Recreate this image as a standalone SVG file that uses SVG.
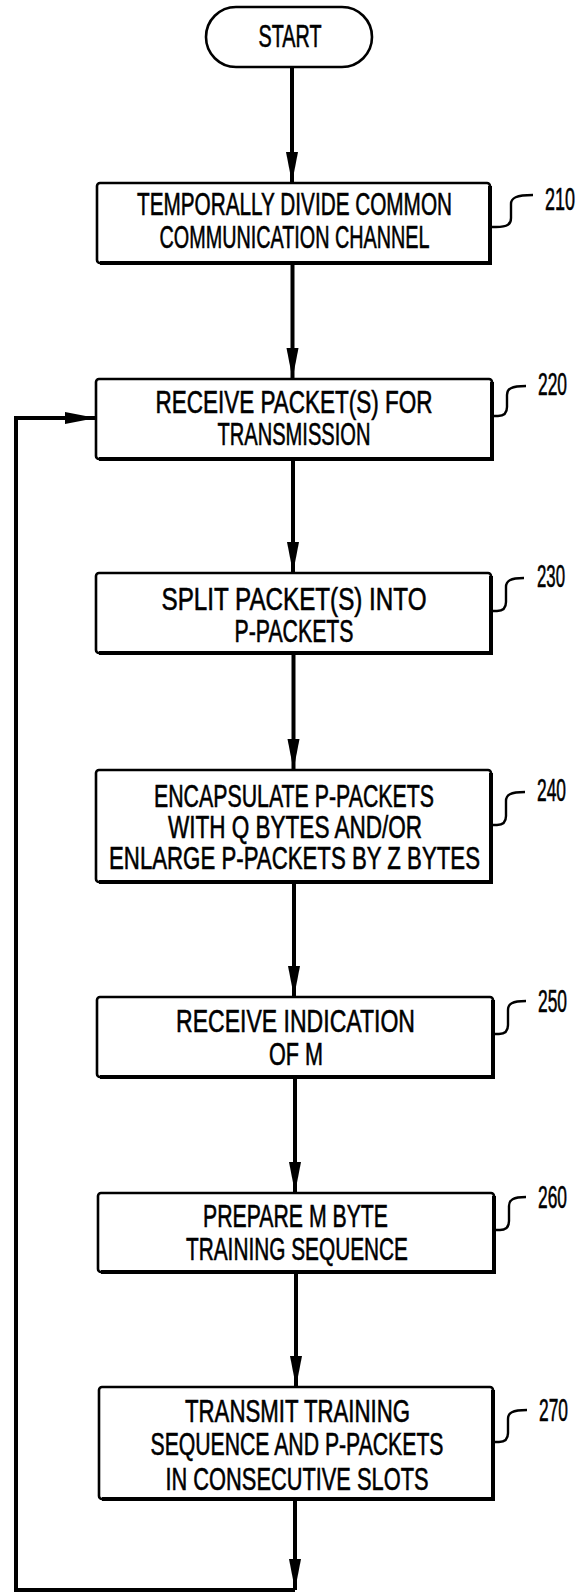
<svg xmlns="http://www.w3.org/2000/svg" width="581" height="1592" viewBox="0 0 581 1592">
<style>
.box{fill:#fff;stroke:#000;stroke-width:2.6}
.edge{fill:none;stroke:#000;stroke-width:4}
.t{font-family:"Liberation Sans",Arial,sans-serif;font-size:32px;fill:#000;stroke:#000;stroke-width:0.6;text-anchor:middle}
.lbl{font-family:"Liberation Sans",Arial,sans-serif;font-size:32px;fill:#000;stroke:#000;stroke-width:0.6;text-anchor:end}
.sq{fill:none;stroke:#000;stroke-width:2.4}
.cn{fill:none;stroke:#000;stroke-width:4}
</style>
<defs>
<marker id="ah" markerUnits="userSpaceOnUse" markerWidth="32" markerHeight="14" viewBox="0 0 32 14" refX="31" refY="7" orient="auto">
<path d="M0,1 L31,7 L0,13 Z" fill="#000"/>
</marker>
</defs>
<rect width="581" height="1592" fill="#fff"/>
<g id="connectors">
<path class="cn" d="M292,67 V183" marker-end="url(#ah)"/>
<path class="cn" d="M292.5,263 V379" marker-end="url(#ah)"/>
<path class="cn" d="M293,459 V573" marker-end="url(#ah)"/>
<path class="cn" d="M293.5,653 V770" marker-end="url(#ah)"/>
<path class="cn" d="M294,882 V997" marker-end="url(#ah)"/>
<path class="cn" d="M295,1077 V1193" marker-end="url(#ah)"/>
<path class="cn" d="M296,1272 V1387" marker-end="url(#ah)"/>
<path class="cn" d="M295,1499 V1590" marker-end="url(#ah)"/>
<path class="cn" d="M295,1590 H16 V418 H96" marker-end="url(#ah)"/>
</g>
<g id="start">
<rect class="box" x="206" y="7" width="166" height="60" rx="30"/>
<text class="t" x="290" y="47" font-size="29" textLength="63" lengthAdjust="spacingAndGlyphs">START</text>
</g>
<g id="n210">
<rect class="box" x="97" y="183" width="393" height="80" rx="3"/>
<path class="edge" d="M490,186 V263 H100"/>
<text class="t" x="294.5" y="215" textLength="315" lengthAdjust="spacingAndGlyphs">TEMPORALLY DIVIDE COMMON</text>
<text class="t" x="294.5" y="248" textLength="270" lengthAdjust="spacingAndGlyphs">COMMUNICATION CHANNEL</text>
<path class="sq" d="M490,227 h6 C508,227 511,224 511,218 V204 C511,198 516,195 533,195"/>
<text class="lbl" x="575" y="210" textLength="30" lengthAdjust="spacingAndGlyphs">210</text>
</g>
<g id="n220">
<rect class="box" x="96" y="379" width="396" height="80" rx="3"/>
<path class="edge" d="M492,382 V459 H99"/>
<text class="t" x="294" y="413" textLength="277" lengthAdjust="spacingAndGlyphs">RECEIVE PACKET(S) FOR</text>
<text class="t" x="294" y="445" textLength="153" lengthAdjust="spacingAndGlyphs">TRANSMISSION</text>
<path class="sq" d="M492,416 h6 C504,416 507,413 507,407 V395 C507,389 511,386 526,386"/>
<text class="lbl" x="567" y="395" textLength="29" lengthAdjust="spacingAndGlyphs">220</text>
</g>
<g id="n230">
<rect class="box" x="96" y="573" width="395" height="80" rx="3"/>
<path class="edge" d="M491,576 V653 H99"/>
<text class="t" x="294" y="610" textLength="265" lengthAdjust="spacingAndGlyphs">SPLIT PACKET(S) INTO</text>
<text class="t" x="294" y="642" textLength="119" lengthAdjust="spacingAndGlyphs">P-PACKETS</text>
<path class="sq" d="M491,611 h6 C503,611 506,608 506,602 V587 C506,581 510,578 524,578"/>
<text class="lbl" x="565" y="587" textLength="28" lengthAdjust="spacingAndGlyphs">230</text>
</g>
<g id="n240">
<rect class="box" x="96" y="770" width="395" height="112" rx="3"/>
<path class="edge" d="M491,773 V882 H99"/>
<text class="t" x="294" y="807" textLength="280" lengthAdjust="spacingAndGlyphs">ENCAPSULATE P-PACKETS</text>
<text class="t" x="295" y="838" textLength="254" lengthAdjust="spacingAndGlyphs">WITH Q BYTES AND/OR</text>
<text class="t" x="294.5" y="869" textLength="371" lengthAdjust="spacingAndGlyphs">ENLARGE P-PACKETS BY Z BYTES</text>
<path class="sq" d="M491,825 h6 C503,825 506,822 506,816 V801 C506,795 510,792 525,792"/>
<text class="lbl" x="566" y="801" textLength="29" lengthAdjust="spacingAndGlyphs">240</text>
</g>
<g id="n250">
<rect class="box" x="97" y="997" width="396" height="80" rx="3"/>
<path class="edge" d="M493,1000 V1077 H100"/>
<text class="t" x="295.5" y="1032" textLength="239" lengthAdjust="spacingAndGlyphs">RECEIVE INDICATION</text>
<text class="t" x="296" y="1065" textLength="54" lengthAdjust="spacingAndGlyphs">OF M</text>
<path class="sq" d="M493,1034 h6 C505,1034 508,1031 508,1025 V1010 C508,1004 512,1001 526,1001"/>
<text class="lbl" x="567" y="1012" textLength="29" lengthAdjust="spacingAndGlyphs">250</text>
</g>
<g id="n260">
<rect class="box" x="98" y="1193" width="396" height="79" rx="3"/>
<path class="edge" d="M494,1196 V1272 H101"/>
<text class="t" x="295.5" y="1227" textLength="185" lengthAdjust="spacingAndGlyphs">PREPARE M BYTE</text>
<text class="t" x="297" y="1260" textLength="222" lengthAdjust="spacingAndGlyphs">TRAINING SEQUENCE</text>
<path class="sq" d="M494,1230 h6 C506,1230 509,1227 509,1221 V1206 C509,1200 513,1197 526,1197"/>
<text class="lbl" x="567" y="1208" textLength="29" lengthAdjust="spacingAndGlyphs">260</text>
</g>
<g id="n270">
<rect class="box" x="99" y="1387" width="394" height="112" rx="3"/>
<path class="edge" d="M493,1390 V1499 H102"/>
<text class="t" x="297.5" y="1422" textLength="225" lengthAdjust="spacingAndGlyphs">TRANSMIT TRAINING</text>
<text class="t" x="297" y="1455" textLength="293" lengthAdjust="spacingAndGlyphs">SEQUENCE AND P-PACKETS</text>
<text class="t" x="297" y="1490" textLength="263" lengthAdjust="spacingAndGlyphs">IN CONSECUTIVE SLOTS</text>
<path class="sq" d="M493,1442 h6 C505,1442 508,1439 508,1433 V1419 C508,1413 512,1410 527,1410"/>
<text class="lbl" x="568" y="1421" textLength="29" lengthAdjust="spacingAndGlyphs">270</text>
</g>
</svg>
